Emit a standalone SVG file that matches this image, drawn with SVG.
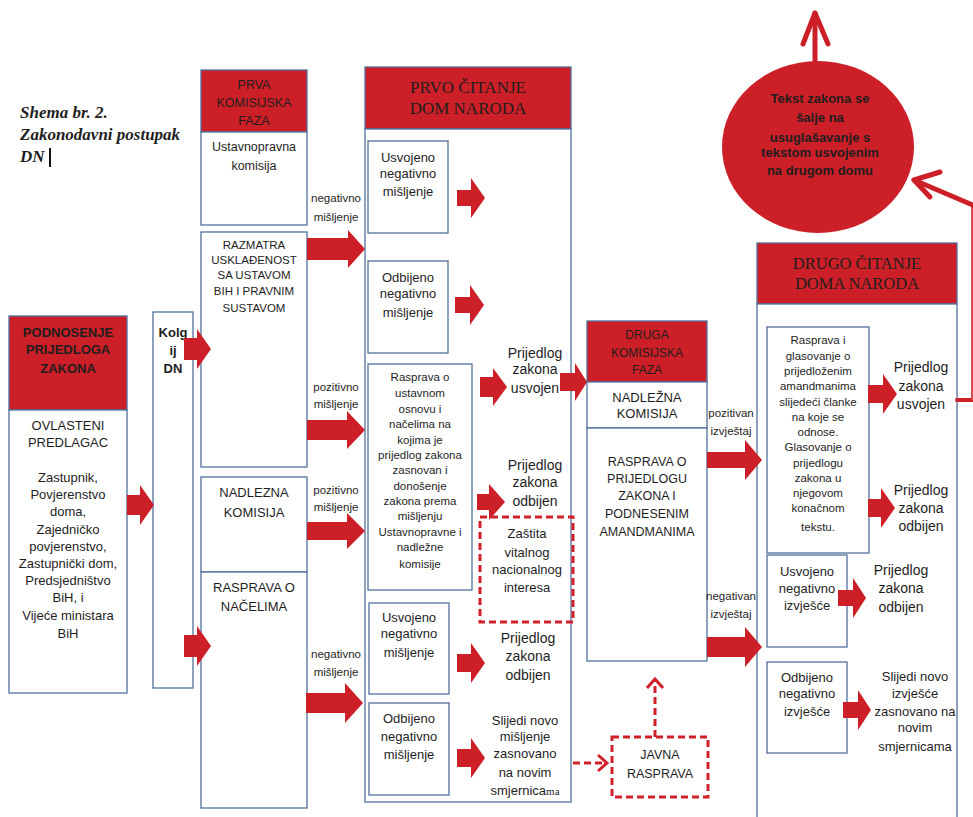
<svg xmlns="http://www.w3.org/2000/svg" width="973" height="817" viewBox="0 0 973 817">
<defs>
<style>
.box{fill:#fff;stroke:#52709e;stroke-width:1.3}
.hdr{fill:#cd1f27;stroke:#52709e;stroke-width:1.3}
.arr{fill:#cd1f27}
.dash{fill:none;stroke:#d0212a;stroke-width:3;stroke-dasharray:7 4}
.chev{fill:none;stroke:#d0212a;stroke-width:3}
.ln{fill:none;stroke:#cd1f27;stroke-linecap:round;stroke-linejoin:round}
text{font-family:"Liberation Sans",Arial,sans-serif;fill:#1e1e1e;text-anchor:middle;font-size:13px}
.b{font-weight:bold}
.s11{font-size:11.5px}
.s12{font-size:12.5px}
.ser{font-family:"Liberation Serif","Times New Roman",serif}
.title{font-family:"Liberation Serif","Times New Roman",serif;font-weight:bold;font-style:italic;font-size:17px;text-anchor:start}
</style>
</defs>
<rect width="973" height="817" fill="#fff"/>

<g id="title">
<text class="title" x="20" y="118">Shema br. 2.</text>
<text class="title" x="20" y="140">Zakonodavni postupak</text>
<text class="title" x="20" y="162">DN</text>
<rect x="49" y="148" width="2" height="19" fill="#111"/>
</g>

<g id="podnosenje">
<rect class="hdr" x="9" y="316" width="118" height="94"/>
<text class="b" x="68" y="337">PODNOSENJE</text>
<text class="b" x="68" y="354">PRIJEDLOGA</text>
<text class="b" x="68" y="373">ZAKONA</text>
<rect class="box" x="9" y="410" width="118" height="283"/>
<text x="68" y="430">OVLASTENI</text>
<text x="68" y="447">PREDLAGAC</text>
<text x="68" y="482">Zastupnik,</text>
<text x="68" y="499">Povjerenstvo</text>
<text x="68" y="516">doma,</text>
<text x="68" y="534">Zajedničko</text>
<text x="68" y="551">povjerenstvo,</text>
<text x="68" y="568">Zastupnički dom,</text>
<text x="68" y="585">Predsjedništvo</text>
<text x="68" y="602">BiH, i</text>
<text x="68" y="620">Vijeće ministara</text>
<text x="68" y="638">BiH</text>
</g>

<g id="kolegij">
<rect class="box" x="153" y="312" width="40" height="376"/>
<text class="b" x="173" y="337">Kolg</text>
<text class="b" x="173" y="355">ij</text>
<text class="b" x="173" y="373">DN</text>
</g>

<g id="prva-faza">
<rect class="hdr" x="201" y="70" width="106" height="62"/>
<text class="s12" x="254" y="88.5">PRVA</text>
<text class="s12" x="254" y="106.5">KOMISIJSKA</text>
<text class="s12" x="254" y="124.5">FAZA</text>
</g>
<g id="ustavnopravna">
<rect class="box" x="201" y="132" width="106" height="93"/>
<text class="s12" x="254" y="150.5">Ustavnopravna</text>
<text class="s12" x="254" y="169.5">komisija</text>
</g>
<g id="razmatra">
<rect class="box" x="201" y="232" width="106" height="235"/>
<text class="s11" x="254" y="249">RAZMATRA</text>
<text class="s11" x="254" y="264">USKLAĐENOST</text>
<text class="s11" x="254" y="279">SA USTAVOM</text>
<text class="s11" x="254" y="295">BIH I PRAVNIM</text>
<text class="s11" x="254" y="312">SUSTAVOM</text>
</g>
<g id="nadlezna">
<rect class="box" x="201" y="477" width="106" height="95"/>
<text x="254" y="496.5">NADLEZNA</text>
<text x="254" y="516.5">KOMISIJA</text>
</g>
<g id="rasprava-nacelima">
<rect class="box" x="201" y="572" width="106" height="236"/>
<text x="254" y="591.5">RASPRAVA O</text>
<text x="254" y="610.5">NAČELIMA</text>
</g>

<g id="prvo-citanje">
<rect class="hdr" x="365" y="67" width="206" height="62"/>
<text class="ser" style="font-size:17px" x="468" y="93">PRVO ČITANJE</text>
<text class="ser" style="font-size:17px" x="468" y="114">DOM NARODA</text>
<rect class="box" x="365" y="129" width="206" height="673"/>
</g>
<g id="usvojeno-neg-1">
<rect class="box" x="368" y="141" width="80" height="92"/>
<text x="408" y="161.5">Usvojeno</text>
<text x="408" y="177.5">negativno</text>
<text x="408" y="195.5">mišljenje</text>
</g>
<g id="odbijeno-neg-1">
<rect class="box" x="368" y="261" width="80" height="92"/>
<text x="408" y="281.5">Odbijeno</text>
<text x="408" y="297.5">negativno</text>
<text x="408" y="316.5">mišljenje</text>
</g>
<g id="rasprava-ustavnom">
<rect class="box" x="368" y="364" width="104" height="226"/>
<text class="s11" x="420" y="381">Rasprava o</text>
<text class="s11" x="420" y="397">ustavnom</text>
<text class="s11" x="420" y="413">osnovu i</text>
<text class="s11" x="420" y="428">načelima na</text>
<text class="s11" x="420" y="444">kojima je</text>
<text class="s11" x="420" y="459">prijedlog zakona</text>
<text class="s11" x="420" y="474">zasnovan i</text>
<text class="s11" x="420" y="490">donošenje</text>
<text class="s11" x="420" y="505">zakona prema</text>
<text class="s11" x="420" y="520">mišljenju</text>
<text class="s11" x="420" y="536">Ustavnopravne i</text>
<text class="s11" x="420" y="551">nadležne</text>
<text class="s11" x="420" y="568">komisije</text>
</g>
<g id="prvo-usvojen">
<text style="font-size:14px" x="535" y="358">Prijedlog</text>
<text style="font-size:14px" x="535" y="374">zakona</text>
<text style="font-size:14px" x="535" y="393">usvojen</text>
</g>
<g id="prvo-odbijen">
<text style="font-size:14px" x="535" y="470">Prijedlog</text>
<text style="font-size:14px" x="535" y="487">zakona</text>
<text style="font-size:14px" x="535" y="506">odbijen</text>
</g>
<g id="zastita">
<rect class="dash" x="480" y="517" width="93" height="105"/>
<text x="527" y="537.5">Zaštita</text>
<text x="527" y="556.5">vitalnog</text>
<text x="527" y="573.5">nacionalnog</text>
<text x="527" y="591.5">interesa</text>
</g>
<g id="usvojeno-neg-2">
<rect class="box" x="369" y="603" width="80" height="91"/>
<text x="409" y="621.5">Usvojeno</text>
<text x="409" y="637.5">negativno</text>
<text x="409" y="656.5">mišljenje</text>
</g>
<g id="prvo-odbijen-2">
<text style="font-size:14px" x="528" y="643">Prijedlog</text>
<text style="font-size:14px" x="528" y="661">zakona</text>
<text style="font-size:14px" x="528" y="680">odbijen</text>
</g>
<g id="odbijeno-neg-2">
<rect class="box" x="369" y="703" width="80" height="92"/>
<text x="409" y="722.5">Odbijeno</text>
<text x="409" y="740.5">negativno</text>
<text x="409" y="758.5">mišljenje</text>
</g>
<g id="slijedi-misljenje">
<text x="525" y="724.5">Slijedi novo</text>
<text x="525" y="740.5">mišljenje</text>
<text x="525" y="757.5">zasnovano</text>
<text x="525" y="776.5">na novim</text>
<text x="525" y="794.5">smjernica<tspan class="ser" style="font-size:11px">ma</tspan></text>
</g>
<g id="javna-rasprava">
<rect class="dash" x="612" y="737" width="96" height="60"/>
<text class="s12" x="660" y="758.5">JAVNA</text>
<text class="s12" x="660" y="777.5">RASPRAVA</text>
</g>

<g id="druga-faza">
<rect class="hdr" x="587" y="321" width="120" height="61"/>
<text style="font-size:12px" x="647" y="339">DRUGA</text>
<text style="font-size:12px" x="647" y="357">KOMISIJSKA</text>
<text style="font-size:12px" x="647" y="374">FAZA</text>
<rect class="box" x="587" y="382" width="120" height="46"/>
<text x="647" y="401.5">NADLEŽNA</text>
<text x="647" y="417.5">KOMISIJA</text>
</g>
<g id="rasprava-prijedlogu">
<rect class="box" x="587" y="428" width="120" height="233"/>
<text class="s12" x="647" y="465.5">RASPRAVA O</text>
<text class="s12" x="647" y="482.5">PRIJEDLOGU</text>
<text class="s12" x="647" y="499.5">ZAKONA I</text>
<text class="s12" x="647" y="517.5">PODNESENIM</text>
<text class="s12" x="647" y="535.5">AMANDMANIMA</text>
</g>

<g id="drugo-citanje">
<rect class="hdr" x="757" y="243" width="200" height="61"/>
<text class="ser" style="font-size:16.5px" x="857" y="269">DRUGO ČITANJE</text>
<text class="ser" style="font-size:16.5px" x="857" y="289">DOMA NARODA</text>
<rect class="box" x="757" y="304" width="200" height="530"/>
</g>
<g id="rasprava-glasovanje">
<rect class="box" x="767" y="327" width="102" height="226"/>
<text class="s11" x="818" y="344">Rasprava i</text>
<text class="s11" x="818" y="360">glasovanje o</text>
<text class="s11" x="818" y="375">prijedloženim</text>
<text class="s11" x="818" y="390">amandmanima</text>
<text class="s11" x="818" y="406">slijedeći članke</text>
<text class="s11" x="818" y="421">na koje se</text>
<text class="s11" x="818" y="436">odnose.</text>
<text class="s11" x="818" y="451">Glasovanje o</text>
<text class="s11" x="818" y="467">prijedlogu</text>
<text class="s11" x="818" y="482">zakona u</text>
<text class="s11" x="818" y="497">njegovom</text>
<text class="s11" x="818" y="512">konačnom</text>
<text class="s11" x="818" y="531">tekstu.</text>
</g>
<g id="drugo-usvojen">
<text style="font-size:14px" x="921" y="372">Prijedlog</text>
<text style="font-size:14px" x="921" y="391">zakona</text>
<text style="font-size:14px" x="921" y="409">usvojen</text>
</g>
<g id="drugo-odbijen">
<text style="font-size:14px" x="921" y="495">Prijedlog</text>
<text style="font-size:14px" x="921" y="513">zakona</text>
<text style="font-size:14px" x="921" y="531">odbijen</text>
</g>
<g id="usvojeno-izvjesce">
<rect class="box" x="767" y="555" width="80" height="92"/>
<text x="807" y="575.5">Usvojeno</text>
<text x="807" y="592.5">negativno</text>
<text x="807" y="609.5">izvješće</text>
</g>
<g id="drugo-odbijen-2">
<text style="font-size:14px" x="901" y="575">Prijedlog</text>
<text style="font-size:14px" x="901" y="593">zakona</text>
<text style="font-size:14px" x="901" y="612">odbijen</text>
</g>
<g id="odbijeno-izvjesce">
<rect class="box" x="767" y="662" width="80" height="91"/>
<text x="807" y="681.5">Odbijeno</text>
<text x="807" y="697.5">negativno</text>
<text x="807" y="715.5">izvješće</text>
</g>
<g id="slijedi-izvjesce">
<text x="915" y="680.5">Slijedi novo</text>
<text x="915" y="697.5">izvješće</text>
<text x="915" y="715.5">zasnovano na</text>
<text x="915" y="731.5">novim</text>
<text x="915" y="750.5">smjernicama</text>
</g>

<g id="usuglasavanje">
<ellipse cx="818" cy="147" rx="96" ry="86" fill="#cd1f27"/>
<text class="b" x="820" y="102.5">Tekst zakona se</text>
<text class="b" x="820" y="122">šalje na</text>
<text class="b" x="820" y="141.5">usuglašavanje s</text>
<text class="b" x="820" y="156.5">tekstom usvojenim</text>
<text class="b" x="820" y="174.5">na drugom domu</text>
</g>

<g id="connectors">
<polygon class="arr" points="127,495 140,495 140,485 154,505 140,525 140,515 127,515"/>
<polygon class="arr" points="184,338 197,338 197,329 211,349 197,369 197,360 184,360"/>
<polygon class="arr" points="184,635 197,635 197,626 211,646 197,666 197,657 184,657"/>
<polygon class="arr" points="307,238 348,238 348,230 365,249 348,268 348,260 307,260"/>
<polygon class="arr" points="307,420 347,420 347,411 365,430 347,449 347,440 307,440"/>
<polygon class="arr" points="307,522 347,522 347,513 365,531 347,549 347,540 307,540"/>
<polygon class="arr" points="306,693 345,693 345,683 363,703 345,723 345,713 306,713"/>
<polygon class="arr" points="457,190 471,190 471,178 485,198 471,218 471,206 457,206"/>
<polygon class="arr" points="455,297 470,297 470,285 484,305 470,325 470,313 455,313"/>
<polygon class="arr" points="480,377 493,377 493,368 507,387 493,406 493,397 480,397"/>
<polygon class="arr" points="560,373 575,373 575,363 587,382 575,401 575,391 560,391"/>
<polygon class="arr" points="477,494 489,494 489,484 505,502 489,520 489,510 477,510"/>
<polygon class="arr" points="457,654 471,654 471,643 485,663 471,683 471,672 457,672"/>
<polygon class="arr" points="457,749 471,749 471,738 485,758 471,778 471,767 457,767"/>
<polygon class="arr" points="707,452 745,452 745,440 762,460 745,480 745,468 707,468"/>
<polygon class="arr" points="707,637 745,637 745,627 762,647 745,667 745,657 707,657"/>
<polygon class="arr" points="868,385 883,385 883,374 897,394 883,414 883,403 868,403"/>
<polygon class="arr" points="868,499 881,499 881,488 895,508 881,528 881,517 868,517"/>
<polygon class="arr" points="838,590 853,590 853,578 866,598 853,618 853,606 838,606"/>
<polygon class="arr" points="843,702 858,702 858,690 871,710 858,730 858,718 843,718"/>

<path class="dash" d="M573,763 H605"/>
<polyline class="chev" points="598,755 607,763 598,771"/>
<path class="dash" d="M655,737 V681"/>
<polyline class="chev" points="647,688 655,679 663,688"/>

<path class="ln" d="M815,62 V13" stroke-width="5"/>
<polyline class="ln" points="803,44 815,13 828,44" stroke-width="5"/>
<path class="ln" d="M957,400 H973" stroke-width="4" stroke-linecap="butt"/>
<path d="M972,400 V205" stroke="#d84a50" stroke-width="2" fill="none"/>
<path class="ln" d="M975,206 L914,180" stroke-width="5"/>
<polyline class="ln" points="940,172 914,180 930,197" stroke-width="5"/>

<g class="s11">
<text class="s11" x="336" y="202">negativno</text>
<text class="s11" x="336" y="221">mišljenje</text>
<text class="s11" x="336" y="391">pozitivno</text>
<text class="s11" x="336" y="408">mišljenje</text>
<text class="s11" x="336" y="494">pozitivno</text>
<text class="s11" x="336" y="511">mišljenje</text>
<text class="s11" x="336" y="658">negativno</text>
<text class="s11" x="336" y="676">mišljenje</text>
<text class="s11" x="731" y="417">pozitivan</text>
<text class="s11" x="731" y="435">izvještaj</text>
<text class="s11" x="731" y="600">negativan</text>
<text class="s11" x="731" y="618">izvještaj</text>
</g>
</g>
</svg>
